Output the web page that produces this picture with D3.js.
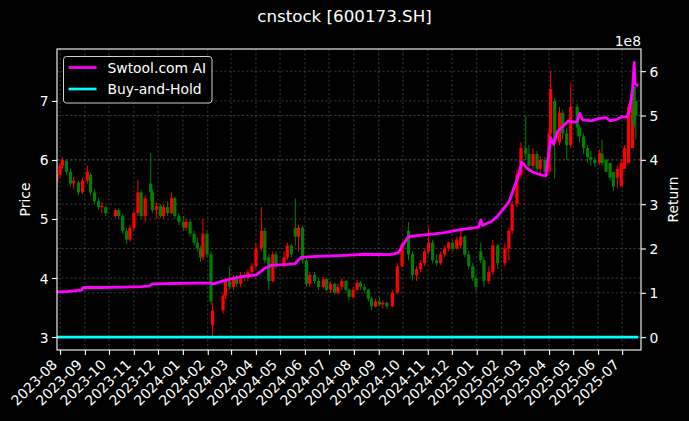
<!DOCTYPE html>
<html><head><meta charset="utf-8">
<script src="https://cdn.jsdelivr.net/npm/d3@7"></script>
<style>html,body{margin:0;padding:0;background:#000;}svg{display:block;}</style>
</head><body>
<svg id="c" width="689" height="421"></svg>
<script>
const title = "cnstock [600173.SH]";
const candleDates = ["2023-07-28","2023-08-01","2023-08-04","2023-08-09","2023-08-14","2023-08-18","2023-08-24","2023-08-29","2023-09-04","2023-09-08","2023-09-13","2023-09-18","2023-09-22","2023-09-27","2023-10-09","2023-10-13","2023-10-18","2023-10-23","2023-10-27","2023-11-01","2023-11-06","2023-11-10","2023-11-15","2023-11-22","2023-11-24","2023-11-29","2023-12-04","2023-12-08","2023-12-13","2023-12-18","2023-12-22","2023-12-27","2024-01-02","2024-01-05","2024-01-10","2024-01-15","2024-01-19","2024-01-23","2024-01-26","2024-01-31","2024-02-05","2024-02-07","2024-02-20","2024-02-23","2024-02-28","2024-03-04","2024-03-08","2024-03-13","2024-03-18","2024-03-22","2024-03-27","2024-04-01","2024-04-08","2024-04-12","2024-04-17","2024-04-22","2024-04-26","2024-05-06","2024-05-10","2024-05-15","2024-05-20","2024-05-24","2024-05-29","2024-06-03","2024-06-07","2024-06-13","2024-06-18","2024-06-24","2024-06-28","2024-07-03","2024-07-08","2024-07-12","2024-07-17","2024-07-22","2024-07-26","2024-07-31","2024-08-05","2024-08-09","2024-08-14","2024-08-19","2024-08-23","2024-08-28","2024-09-02","2024-09-06","2024-09-11","2024-09-18","2024-09-24","2024-09-30","2024-10-08","2024-10-13","2024-10-18","2024-10-23","2024-10-28","2024-11-02","2024-11-07","2024-11-12","2024-11-17","2024-11-22","2024-11-27","2024-12-02","2024-12-07","2024-12-12","2024-12-17","2024-12-22","2024-12-27","2024-12-31","2025-01-06","2025-01-10","2025-01-16","2025-01-21","2025-01-27","2025-02-05","2025-02-10","2025-02-14","2025-02-20","2025-02-25","2025-03-03","2025-03-07","2025-03-12","2025-03-17","2025-03-21","2025-03-27","2025-04-01","2025-04-03","2025-04-08","2025-04-14","2025-04-18","2025-04-23","2025-04-28","2025-05-06","2025-05-09","2025-05-14","2025-05-19","2025-05-23","2025-05-28","2025-06-03","2025-06-06","2025-06-11","2025-06-16","2025-06-20","2025-06-25","2025-06-30","2025-07-04","2025-07-09","2025-07-14","2025-07-16","2025-07-18","2025-07-21"];
const openP  = [5.65,5.75,5.90,5.98,5.80,5.60,5.62,5.45,5.65,5.75,5.45,5.30,5.20,5.20,5.05,5.15,5.05,4.80,4.65,4.85,5.10,5.45,5.05,5.60,5.45,5.15,5.22,5.05,5.20,5.10,5.35,5.05,4.95,4.85,4.95,4.75,4.60,4.50,4.35,4.75,4.40,3.20,3.45,3.70,3.95,3.85,4.00,3.90,4.05,4.00,4.10,4.20,4.50,4.80,4.35,3.95,4.40,4.20,4.35,4.55,4.85,4.70,4.85,4.30,3.90,4.05,3.95,3.85,3.98,3.80,3.90,3.75,3.85,3.95,3.80,3.68,3.80,3.92,3.85,3.80,3.65,3.52,3.60,3.55,3.58,3.52,3.75,4.20,4.80,4.40,4.05,4.15,4.25,4.45,4.60,4.30,4.25,4.40,4.50,4.60,4.50,4.55,4.70,4.40,4.20,4.00,4.45,4.30,3.95,4.10,4.55,4.25,4.50,4.80,5.25,5.75,6.20,6.10,5.90,6.10,5.85,6.00,5.80,6.45,7.00,6.30,6.80,6.45,6.25,6.90,6.55,6.40,6.20,6.05,6.00,5.95,6.10,6.00,5.95,5.80,5.70,5.55,5.85,5.95,6.20,7.25,7.00,6.40];
const highP  = [5.80,5.95,6.05,6.00,5.85,5.72,5.65,5.70,5.90,5.78,5.50,5.35,5.28,5.22,5.18,5.18,5.08,4.85,4.90,5.15,5.66,5.50,5.40,6.12,5.50,5.28,5.25,5.25,5.30,5.45,5.38,5.10,5.05,5.00,4.98,4.80,4.68,4.55,5.00,4.80,4.45,3.58,3.75,4.00,4.20,4.05,4.05,4.10,4.10,4.15,4.25,4.60,5.20,4.85,4.40,4.45,4.45,4.45,4.60,4.58,5.35,4.90,4.88,4.35,4.10,4.10,4.00,4.02,4.00,3.95,3.92,3.90,4.00,3.97,3.82,3.85,3.97,3.95,3.90,3.82,3.68,3.65,3.68,3.62,3.60,3.80,4.25,4.62,4.95,4.45,4.20,4.30,4.50,4.86,4.65,4.40,4.45,4.55,4.62,4.65,4.70,4.85,4.72,4.45,4.25,4.05,4.60,4.35,4.20,4.65,4.58,4.60,4.85,5.30,5.85,6.30,6.75,6.25,6.20,6.15,6.07,6.05,6.50,7.50,7.05,6.90,6.85,6.55,7.30,6.95,6.60,6.45,6.25,6.15,6.05,6.18,6.35,6.02,5.88,5.75,5.90,6.00,6.25,6.95,7.30,7.05,6.80];
const lowP   = [5.55,5.70,5.85,5.75,5.55,5.50,5.40,5.42,5.60,5.40,5.25,5.15,5.10,5.05,5.02,5.00,4.75,4.58,4.62,4.80,5.05,5.00,4.95,5.30,5.10,5.00,5.02,5.00,5.05,5.08,5.00,4.90,4.80,4.80,4.70,4.55,4.45,4.27,4.30,4.35,3.55,3.00,3.40,3.65,3.80,3.80,3.85,3.85,3.95,3.95,4.05,4.15,4.45,4.25,3.80,3.92,4.15,4.18,4.30,4.35,4.55,4.45,4.25,3.85,3.85,3.90,3.80,3.82,3.78,3.75,3.72,3.72,3.80,3.75,3.62,3.65,3.78,3.80,3.75,3.60,3.45,3.50,3.52,3.48,3.48,3.50,3.72,4.18,4.30,3.95,3.95,4.10,4.20,4.40,4.25,4.20,4.22,4.35,4.45,4.45,4.48,4.50,4.35,4.15,3.95,3.78,4.25,3.85,3.90,4.05,4.15,4.20,4.30,4.75,5.20,5.70,6.00,5.80,5.85,5.80,5.73,5.73,5.75,6.40,5.68,6.25,6.35,6.00,6.20,6.40,6.30,6.10,5.95,5.90,5.88,5.92,5.90,5.80,5.65,5.47,5.52,5.80,5.90,6.15,6.95,6.55,6.35];
const closeP = [5.75,5.90,6.00,5.80,5.60,5.65,5.45,5.65,5.80,5.45,5.30,5.20,5.22,5.10,5.15,5.05,4.80,4.65,4.85,5.10,5.45,5.05,5.35,5.45,5.15,5.22,5.05,5.20,5.10,5.35,5.05,4.95,4.85,4.95,4.75,4.60,4.50,4.35,4.75,4.40,3.60,3.45,3.70,3.95,3.85,4.00,3.90,4.05,4.00,4.10,4.20,4.50,4.80,4.30,3.95,4.40,4.20,4.35,4.55,4.40,4.70,4.85,4.30,3.90,4.05,3.95,3.85,3.98,3.80,3.90,3.75,3.85,3.95,3.80,3.68,3.80,3.92,3.85,3.80,3.65,3.52,3.60,3.55,3.58,3.52,3.75,4.20,4.58,4.40,4.05,4.15,4.25,4.45,4.60,4.30,4.25,4.40,4.50,4.60,4.50,4.65,4.70,4.40,4.20,4.00,3.85,4.30,3.95,4.10,4.55,4.25,4.50,4.80,5.25,5.75,6.20,6.10,5.90,6.10,5.85,6.00,5.80,6.45,7.20,6.30,6.80,6.45,6.25,6.90,6.55,6.40,6.20,6.05,6.00,5.95,6.12,5.95,5.80,5.70,5.55,5.85,5.95,6.20,6.90,7.05,6.60,6.75];

const retDates = ["2023-07-28","2023-08-10","2023-08-28","2023-08-30","2023-09-20","2023-10-20","2023-11-10","2023-11-20","2023-11-24","2023-12-20","2024-01-20","2024-02-05","2024-02-08","2024-02-20","2024-03-05","2024-03-20","2024-04-01","2024-04-12","2024-04-20","2024-05-10","2024-05-20","2024-05-27","2024-06-15","2024-07-15","2024-08-15","2024-09-15","2024-09-25","2024-09-30","2024-10-08","2024-10-25","2024-11-20","2024-12-10","2024-12-31","2025-01-03","2025-01-06","2025-01-08","2025-01-20","2025-01-27","2025-02-10","2025-02-18","2025-02-21","2025-02-26","2025-03-05","2025-03-12","2025-03-24","2025-03-28","2025-04-03","2025-04-07","2025-04-11","2025-04-18","2025-04-25","2025-05-01","2025-05-06","2025-05-09","2025-05-13","2025-05-25","2025-06-01","2025-06-11","2025-06-16","2025-06-25","2025-07-01","2025-07-07","2025-07-10","2025-07-14","2025-07-16","2025-07-17","2025-07-21"];
const retValues = [1.02e8,1.03e8,1.06e8,1.12e8,1.12e8,1.13e8,1.14e8,1.15e8,1.20e8,1.21e8,1.22e8,1.22e8,1.20e8,1.27e8,1.33e8,1.38e8,1.40e8,1.55e8,1.62e8,1.64e8,1.66e8,1.80e8,1.82e8,1.84e8,1.87e8,1.86e8,1.90e8,2.05e8,2.27e8,2.30e8,2.35e8,2.42e8,2.47e8,2.48e8,2.64e8,2.52e8,2.62e8,2.73e8,3.05e8,3.45e8,3.60e8,3.95e8,3.80e8,3.72e8,3.65e8,3.64e8,4.50e8,4.35e8,4.63e8,4.75e8,4.88e8,4.85e8,4.86e8,5.05e8,4.90e8,4.88e8,4.93e8,4.95e8,4.88e8,4.92e8,4.97e8,4.97e8,5.10e8,5.60e8,6.20e8,5.72e8,5.67e8];
const bhDates = ["2023-07-28","2025-07-21"];
const bhValues = [1.0, 1.1];

const monthTicks = ["2023-08","2023-09","2023-10","2023-11","2023-12","2024-01","2024-02","2024-03","2024-04","2024-05","2024-06","2024-07","2024-08","2024-09","2024-10","2024-11","2024-12","2025-01","2025-02","2025-03","2025-04","2025-05","2025-06","2025-07"];
const priceTicks = [3,4,5,6,7];
const returnTicks = [0,1,2,3,4,5,6];
const seriesNames = ["Swtool.com AI","Buy-and-Hold"];
const seriesColors = ["#ff00ff","#00ffff"];

const W=689,H=421, L=57, R=641, T=49, B=350;
const FONT="DejaVu Sans, sans-serif", FS=13.9;
const parse=d3.timeParse("%Y-%m-%d"), parseM=d3.timeParse("%Y-%m");
const x=d3.scaleTime().domain([new Date(2023,6,28,6),new Date(2025,6,24,12)]).range([L,R]);
const yP=d3.scaleLinear().domain([2.78,7.88]).range([B,T]);
const yR=d3.scaleLinear().domain([-0.29e8,6.5e8]).range([B,T]);

const svg=d3.select("#c");
svg.append("rect").attr("width",W).attr("height",H).attr("fill","#000");
svg.append("defs").append("clipPath").attr("id","clip").append("rect")
  .attr("x",L).attr("y",T).attr("width",R-L).attr("height",B-T);

// grid
const grid=svg.append("g").attr("stroke","#5e5e5e").attr("stroke-width",0.6).attr("stroke-dasharray","2.2,2.2");
monthTicks.forEach(m=>{const xx=x(parseM(m));grid.append("line").attr("x1",xx).attr("x2",xx).attr("y1",T).attr("y2",B);});
priceTicks.forEach(v=>{const yy=yP(v);grid.append("line").attr("x1",L).attr("x2",R).attr("y1",yy).attr("y2",yy);});
returnTicks.forEach(v=>{const yy=yR(v*1e8);grid.append("line").attr("x1",L).attr("x2",R).attr("y1",yy).attr("y2",yy);});

// candles
const cg=svg.append("g").attr("clip-path","url(#clip)");
candleDates.forEach((d,i)=>{
  const xx=x(parse(d)), o=openP[i], c=closeP[i];
  const col = c>=o ? "#ff0000" : "#008000";
  cg.append("line").attr("x1",xx).attr("x2",xx).attr("y1",yP(highP[i])).attr("y2",yP(lowP[i]))
    .attr("stroke",col).attr("stroke-width",1);
  const y1=yP(Math.max(o,c)), y2=yP(Math.min(o,c));
  cg.append("rect").attr("x",xx-1.6).attr("width",3.2).attr("y",y1).attr("height",Math.max(0.8,y2-y1)).attr("fill",col);
});

// lines
const lg=svg.append("g").attr("clip-path","url(#clip)");
const line=d3.line().x(d=>x(d[0])).y(d=>yR(d[1]));
lg.append("path").datum(bhDates.map((d,i)=>[parse(d),bhValues[i]])).attr("d",line)
  .attr("fill","none").attr("stroke",seriesColors[1]).attr("stroke-width",2.7);
lg.append("path").datum(retDates.map((d,i)=>[parse(d),retValues[i]])).attr("d",line)
  .attr("fill","none").attr("stroke",seriesColors[0]).attr("stroke-width",2.8).attr("stroke-linejoin","round");

// axes
function styleAxis(g){g.select(".domain").remove();g.selectAll("line").attr("stroke","#fff").attr("stroke-width",1.1);
  g.selectAll("text").attr("fill","#fff").attr("font-family",FONT).attr("font-size",FS);}
const ax=svg.append("g").attr("transform",`translate(0,${B})`)
  .call(d3.axisBottom(x).tickValues(monthTicks.map(m=>parseM(m))).tickFormat((d,i)=>monthTicks[i]).tickSize(4.9).tickPadding(3.5));
styleAxis(ax);
ax.selectAll("text").attr("y",0).attr("dy",null).attr("text-anchor","end").attr("transform","translate(-2.5,15.5) rotate(-45)");
const al=svg.append("g").attr("transform",`translate(${L},0)`)
  .call(d3.axisLeft(yP).tickValues(priceTicks).tickFormat((d,i)=>String(priceTicks[i])).tickSize(4.9).tickPadding(3.5));
styleAxis(al); al.selectAll("text").attr("dy","0.36em");
const ar=svg.append("g").attr("transform",`translate(${R},0)`)
  .call(d3.axisRight(yR).tickValues(returnTicks.map(v=>v*1e8)).tickFormat((d,i)=>String(returnTicks[i])).tickSize(4.9).tickPadding(3.5));
styleAxis(ar); ar.selectAll("text").attr("dy","0.36em");

// spines
svg.append("rect").attr("x",L).attr("y",T).attr("width",R-L).attr("height",B-T)
  .attr("fill","none").attr("stroke","#fff").attr("stroke-width",1.1);

// texts
const txt=(s,xx,yy,anchor,size)=>svg.append("text").text(s).attr("x",xx).attr("y",yy)
  .attr("text-anchor",anchor).attr("fill","#fff").attr("font-family",FONT).attr("font-size",size||FS);
txt(title,344.5,22,"middle",16.7);
txt("1e8",R,46,"end");
txt("Price",0,0,"middle").attr("transform",`translate(30,199.5) rotate(-90)`);
txt("Return",0,0,"middle").attr("transform",`translate(678,199.5) rotate(-90)`);

// legend
const leg=svg.append("g");
leg.append("rect").attr("x",63.5).attr("y",56.5).attr("width",148.5).attr("height",46.5).attr("rx",3)
  .attr("fill","#000").attr("fill-opacity",0.8).attr("stroke","#d0d0d0").attr("stroke-width",1);
seriesNames.forEach((n,i)=>{
  const yy=67.5+i*21.5;
  leg.append("line").attr("x1",68.5).attr("x2",96.5).attr("y1",yy).attr("y2",yy).attr("stroke",seriesColors[i]).attr("stroke-width",2.7);
  txt(n,107.5,yy+5,"start");
});
</script>
</body></html>
